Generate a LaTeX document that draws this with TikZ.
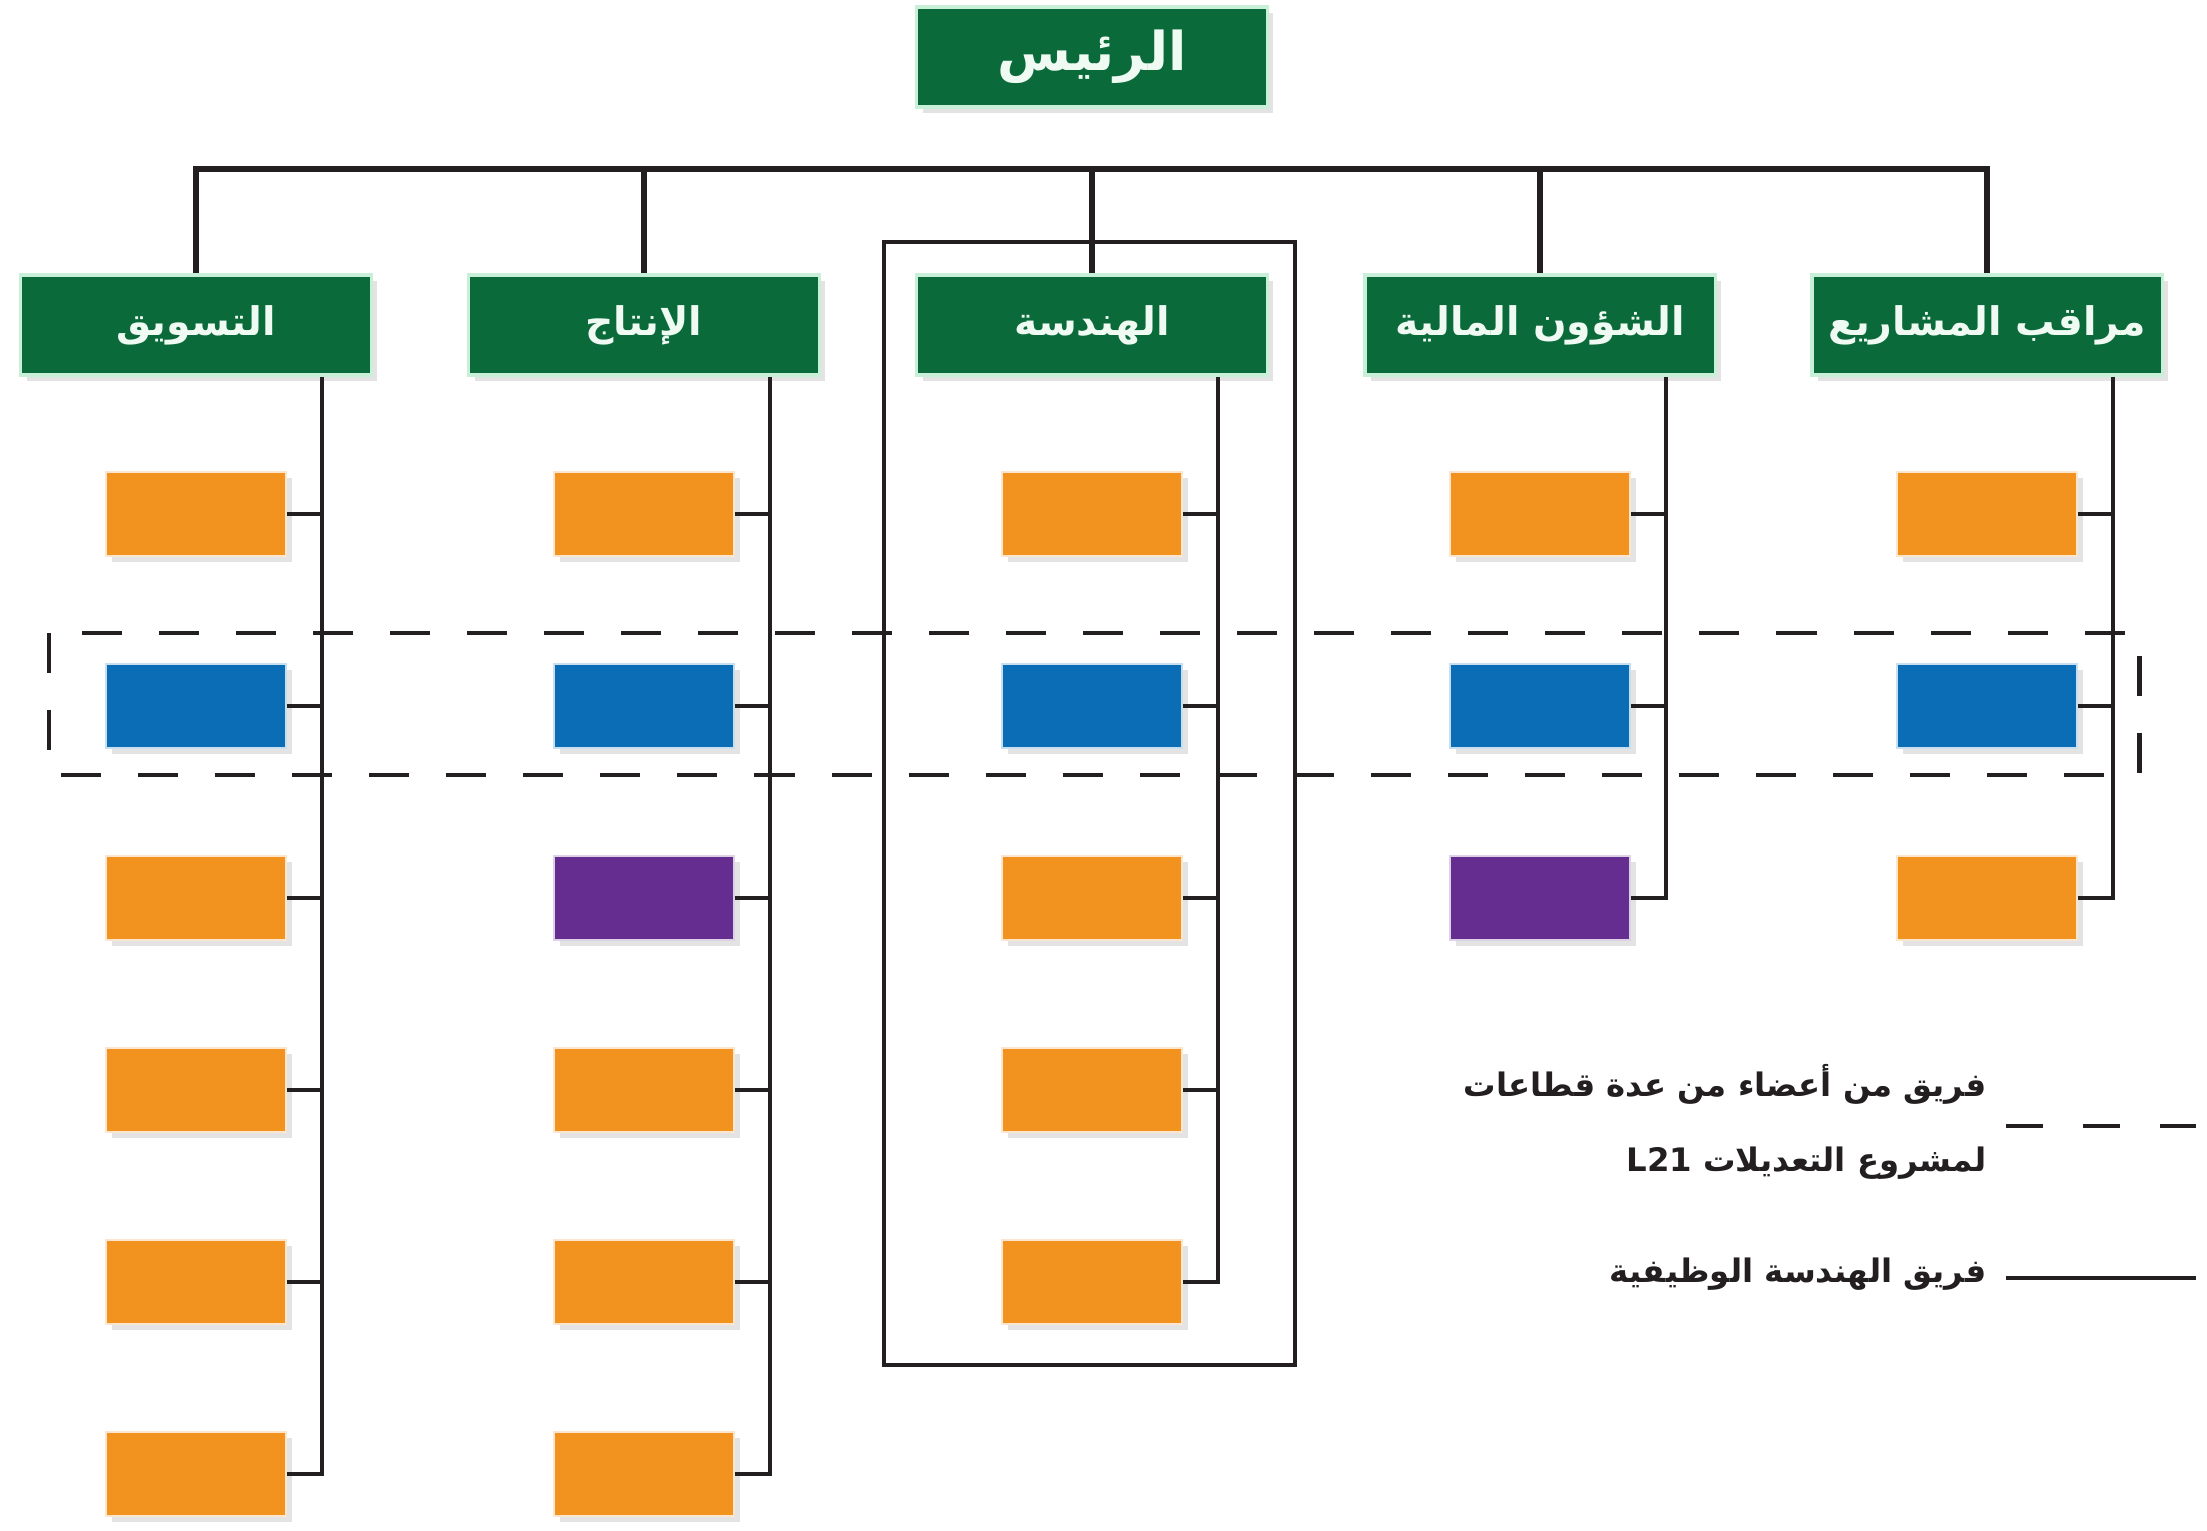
\documentclass[tikz,border=0pt]{standalone}
\usepackage{fontspec}
\usetikzlibrary{shadows}
\newfontfamily\arabicfont[Script=Arabic]{DejaVu Sans}
\TeXXeTstate=1
\definecolor{hgreen}{HTML}{0A6A3A}
\definecolor{gedge}{HTML}{C8F0D8}
\definecolor{htext}{HTML}{EEFAF2}
\definecolor{borange}{HTML}{F3931F}
\definecolor{bblue}{HTML}{0A6DB6}
\definecolor{bpurple}{HTML}{652D8F}
\definecolor{lblack}{HTML}{231F20}
\begin{document}
\begin{tikzpicture}[x=0.01cm,y=-0.01cm,
  shade/.style={drop shadow={shadow xshift=1.6pt,shadow yshift=-1.8pt,opacity=0.22}},
  box/.style={shade,minimum width=1.8cm,minimum height=0.84cm,inner sep=0pt,line width=0.8pt},
  hdr/.style={shade,minimum width=3.5cm,minimum height=1.0cm,inner sep=0pt,fill=hgreen,draw=gedge,line width=0.9pt,text=htext,font=\arabicfont\bfseries\fontsize{11.2}{13}\selectfont},
  link/.style={line width=1.1pt,draw=lblack},
  buslink/.style={line width=1.5pt,draw=lblack},
  legend/.style={inner sep=0pt,text=lblack,font=\arabicfont\bfseries\fontsize{9.2}{11}\selectfont}]
\useasboundingbox[fill=white] (0,0) rectangle (2207,1530);

% top node
\node[hdr,font=\arabicfont\bfseries\fontsize{15.2}{17}\selectfont] (top) at (1092,57) {\beginR الرئيس\endR};

% department headers
\node[hdr] (h1) at (196,325) {\beginR التسويق\endR};
\node[hdr] (h2) at (644,325) {\beginR الإنتاج\endR};
\node[hdr] (h3) at (1092,325) {\beginR الهندسة\endR};
\node[hdr] (h4) at (1540,325) {\beginR الشؤون المالية\endR};
\node[hdr] (h5) at (1987,325) {\beginR مراقب المشاريع\endR};

% bus
\coordinate (bus) at (0,169);
\draw[buslink,line join=miter] (h1.north) -- (h1.north |- bus) -- (h5.north |- bus) -- (h5.north);
\foreach \c in {2,3,4} \draw[buslink] (h\c.north) -- (h\c.north |- bus);

% member boxes and spines
\foreach \c/\x/\n/\types in {
  1/196/6/{borange,bblue,borange,borange,borange,borange},
  2/644/6/{borange,bblue,bpurple,borange,borange,borange},
  3/1092/5/{borange,bblue,borange,borange,borange},
  4/1540/3/{borange,bblue,bpurple},
  5/1987/3/{borange,bblue,borange}} {
  \coordinate (s\c) at (\x+126,375);
  \foreach \f [count=\r] in \types {
    \node[box,fill=\f,draw=\f!22!white] (b\c-\r) at (\x,{514+(\r-1)*192}) {};
  }
  \draw[link,line join=miter] (h\c.south -| s\c) |- (b\c-\n.east);
  \foreach \r in {1,...,\n} \draw[link] (b\c-\r.east) -- (b\c-\r.east -| s\c);
}

% engineering functional team frame
\coordinate (ef1) at (884,242);
\coordinate (ef2) at (1295,1365);
\draw[line width=1.2pt,draw=lblack] (ef1) rectangle (ef2);

% cross-functional team dashed frame
\coordinate (cf1) at (49,633);
\coordinate (cf2) at (2139,775);
\draw[line width=1.4pt,draw=lblack,dash pattern=on 0.4cm off 0.37cm] (cf1) rectangle (cf2);

% legend
\node[legend,anchor=east] (l1) at (1987,1084) {\beginR فريق من أعضاء من عدة قطاعات\endR};
\node[legend,anchor=east] (l2) at (1987,1163) {\beginR لمشروع التعديلات \beginL L21\endL\endR};
\node[legend,anchor=east] (l3) at (1987,1274) {\beginR فريق الهندسة الوظيفية\endR};
\coordinate (ld1) at (2006,1126);
\coordinate (ld2) at (2196,1126);
\coordinate (ls1) at (2006,1278);
\coordinate (ls2) at (2196,1278);
\draw[line width=1.4pt,draw=lblack,dash pattern=on 0.37cm off 0.40cm] (ld1) -- (ld2);
\draw[line width=1.4pt,draw=lblack] (ls1) -- (ls2);
\end{tikzpicture}
\end{document}
